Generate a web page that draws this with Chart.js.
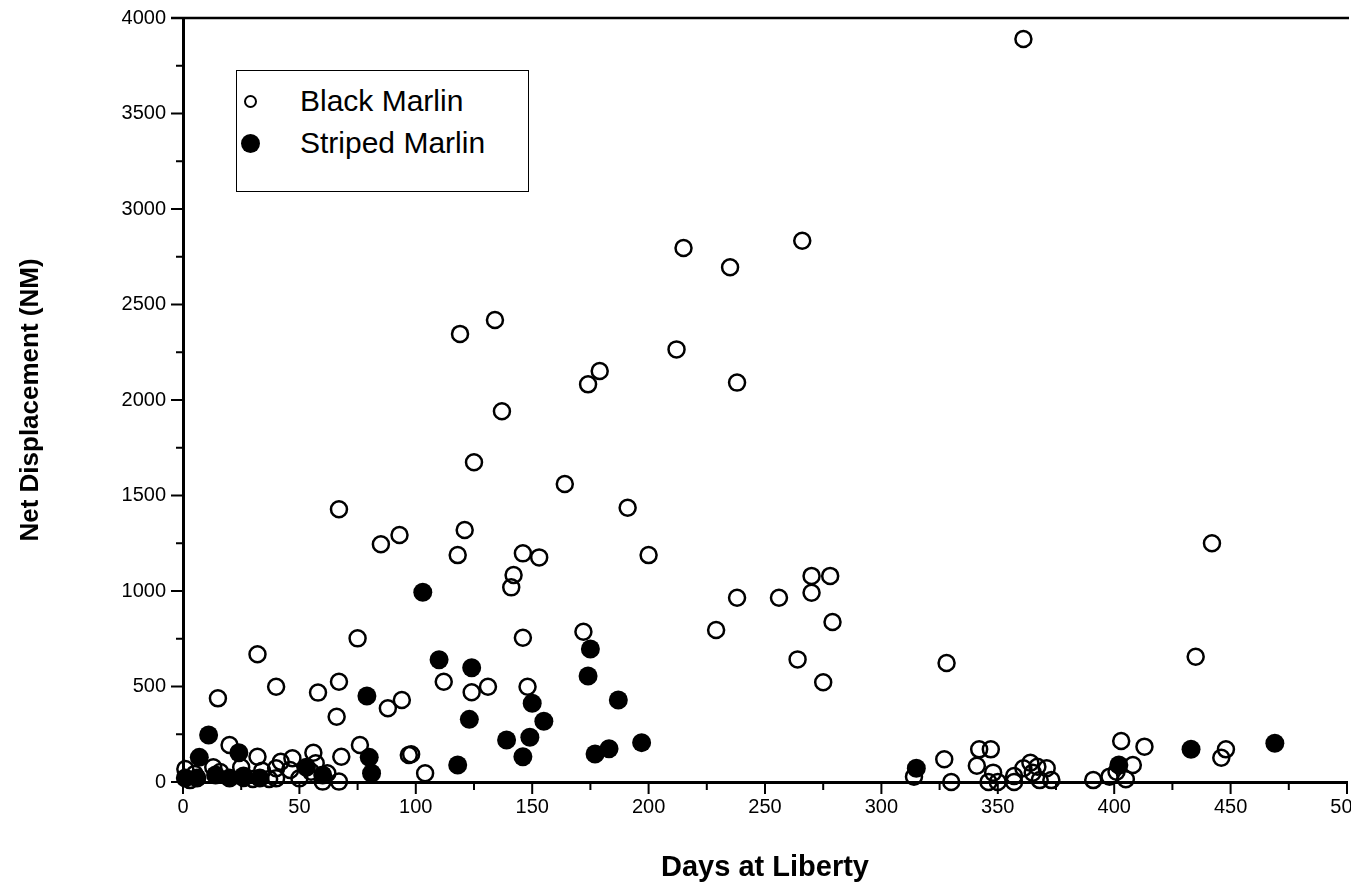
<!DOCTYPE html>
<html>
<head>
<meta charset="utf-8">
<title>Net Displacement vs Days at Liberty</title>
<script src="https://cdn.jsdelivr.net/npm/chart.js@4.4.1/dist/chart.umd.min.js"></script>
<style>
    html, body { margin: 0; padding: 0; background: #fff; }
    #wrap { position: relative; width: 1351px; height: 894px; overflow: hidden; }
    #wrap canvas { position: absolute; left: 0; top: 0; }
    .legend {
        position: absolute; left: 236px; top: 70px; width: 291px; height: 120px;
        border: 1.5px solid #000; background: #fff;
        font-family: "Liberation Sans", Arial, Helvetica, sans-serif; font-size: 30px; color: #000;
    }
    .legend .row { position: absolute; left: 0; height: 34px; line-height: 34px; }
    .legend .mark { position: absolute; box-sizing: border-box; border-radius: 50%; }
    .legend .open { left: 7px; top: 11px; width: 13px; height: 13px; border: 2px solid #000; }
    .legend .full { left: 4px; top: 8px; width: 19px; height: 19px; background: #000; }
    .legend .txt { position: absolute; left: 63px; top: 0; white-space: nowrap; }
</style>
</head>
<body>
<div id="wrap">
    <canvas id="chart" width="1368" height="894"></canvas>
    <div class="legend">
        <div class="row" style="top:13px"><span class="mark open"></span><span class="txt">Black Marlin</span></div>
        <div class="row" style="top:55px"><span class="mark full"></span><span class="txt">Striped Marlin</span></div>
    </div>
</div>
<script>
// tag returns: days at liberty vs net displacement (nautical miles)
const blackDays = [
    361, 215, 235, 266, 134, 119, 179, 174, 212, 238, 137, 125, 164, 191, 121, 93, 118, 146, 153, 200,
    142, 141, 146, 172, 112, 124, 131, 148, 94, 98, 104, 238, 256, 270, 278, 270, 279, 229, 264, 275,
    442, 435, 67, 85, 75, 32, 40, 58, 67, 15, 88, 66, 20, 32, 42, 47, 56, 68, 76, 97,
    13, 25, 34, 40, 40, 46, 50, 55, 57, 62, 67, 60, 314, 327, 330, 342, 347, 341, 348, 346,
    350, 357, 357, 361, 364, 367, 365, 371, 368, 373, 391, 398, 401, 405, 408, 403, 413, 448, 446, 328,
    1, 3, 5, 16, 26, 30, 37
];
const blackNM = [
    3890, 2796, 2695, 2834, 2419, 2346, 2152, 2082, 2265, 2091, 1941, 1674, 1560, 1436, 1319, 1293, 1188, 1197, 1176, 1188,
    1084, 1019, 755, 787, 525, 470, 499, 499, 429, 145, 46, 965, 965, 1079, 1079, 991, 838, 796, 642, 522,
    1250, 656, 1428, 1245, 752, 669, 499, 468, 525, 438, 386, 342, 194, 132, 106, 124, 153, 132, 194, 141,
    77, 77, 59, 19, 72, 63, 19, 54, 98, 46, 2, 2, 28, 119, 0, 171, 171, 85, 49, 0,
    0, 0, 31, 72, 101, 80, 49, 72, 10, 10, 10, 28, 54, 14, 89, 215, 185, 171, 127, 623,
    68, 10, 42, 52, 21, 16, 16
];
const stripedDays = [
    103, 110, 124, 123, 118, 139, 146, 149, 150, 155, 175, 174, 187, 177, 183, 197, 79, 11, 24, 7,
    80, 81, 53, 60, 315, 402, 433, 469, 6, 14, 20, 26, 1, 33
];
const stripedNM = [
    993, 640, 598, 328, 89, 220, 132, 234, 412, 318, 696, 555, 429, 147, 174, 206, 450, 246, 153, 129,
    129, 46, 77, 37, 72, 89, 171, 203, 21, 37, 21, 31, 21, 21
];

const xTickValues = [0, 50, 100, 150, 200, 250, 300, 350, 400, 450, 500];
const yTickValues = [0, 500, 1000, 1500, 2000, 2500, 3000, 3500, 4000];

const toPoints = (xs, ys) => xs.map((d, i) => ({ x: d, y: ys[i] }));

const FONT = '"Liberation Sans", Arial, Helvetica, sans-serif';

// top frame line plus major/minor tick marks on both axes
const frameTicks = {
    id: 'frameTicks',
    afterDraw(chart) {
        const { ctx, chartArea, scales: { x, y } } = chart;
        ctx.save();
        ctx.strokeStyle = '#000';
        ctx.lineCap = 'butt';

        ctx.lineWidth = 2.5;
        ctx.beginPath();
        ctx.moveTo(chartArea.left - 12, chartArea.top);
        ctx.lineTo(chartArea.right + 2, chartArea.top);
        ctx.stroke();

        ctx.lineWidth = 2;
        ctx.beginPath();
        const yStep = yTickValues[1] - yTickValues[0];
        for (let v = yTickValues[0]; v <= yTickValues[yTickValues.length - 1]; v += yStep / 2) {
            const py = y.getPixelForValue(v);
            const len = yTickValues.includes(v) ? 12 : 7;
            ctx.moveTo(chartArea.left - len, py);
            ctx.lineTo(chartArea.left, py);
        }
        const xStep = xTickValues[1] - xTickValues[0];
        for (let d = xTickValues[0]; d <= xTickValues[xTickValues.length - 1]; d += xStep / 2) {
            const px = x.getPixelForValue(d);
            const len = xTickValues.includes(d) ? 12 : 8;
            ctx.moveTo(px, chartArea.bottom);
            ctx.lineTo(px, chartArea.bottom + len);
        }
        ctx.stroke();
        ctx.restore();
    }
};

const chart = new Chart(document.getElementById('chart'), {
    type: 'scatter',
    data: {
        datasets: [
            {
                label: 'Black Marlin',
                data: toPoints(blackDays, blackNM),
                pointRadius: 8,
                pointBorderWidth: 2.5,
                borderColor: '#000',
                backgroundColor: 'rgba(0,0,0,0)',
                clip: false,
            },
            {
                label: 'Striped Marlin',
                data: toPoints(stripedDays, stripedNM),
                pointRadius: 9.5,
                pointBorderWidth: 0,
                borderColor: '#000',
                backgroundColor: '#000',
                clip: false,
            },
        ],
    },
    options: {
        responsive: false,
        devicePixelRatio: 1,
        animation: false,
        events: [],
        layout: { padding: { top: 18, right: 21, bottom: 0, left: 0 } },
        plugins: {
            legend: { display: false },
            tooltip: { enabled: false },
        },
        scales: {
            x: {
                type: 'linear',
                min: 0,
                max: 500,
                afterFit: (scale) => {
                    scale.height = 112;
                    scale.paddingLeft = 0;
                    scale.paddingRight = 0;
                },
                afterBuildTicks: (scale) => { scale.ticks = xTickValues.map(v => ({ value: v })); },
                ticks: {
                    color: '#000',
                    font: { family: FONT, size: 20 },
                    padding: 13,
                    maxRotation: 0,
                    autoSkip: false,
                    callback: (v) => String(v),
                },
                grid: { display: true, drawOnChartArea: false, drawTicks: false },
                border: { display: true, color: '#000', width: 3 },
                title: {
                    display: true,
                    text: 'Days at Liberty',
                    color: '#000',
                    font: { family: FONT, size: 29, weight: 'bold' },
                    padding: { top: 0, bottom: 9 },
                },
            },
            y: {
                type: 'linear',
                min: 0,
                max: 4000,
                afterFit: (scale) => {
                    scale.width = 183;
                    scale.paddingTop = 0;
                    scale.paddingBottom = 0;
                },
                afterBuildTicks: (scale) => { scale.ticks = yTickValues.map(v => ({ value: v })); },
                ticks: {
                    color: '#000',
                    font: { family: FONT, size: 20 },
                    padding: 17,
                    callback: (v) => String(v),
                },
                grid: { display: true, drawOnChartArea: false, drawTicks: false },
                border: { display: true, color: '#000', width: 3 },
                title: {
                    display: true,
                    text: 'Net Displacement (NM)',
                    color: '#000',
                    font: { family: FONT, size: 26, weight: 'bold' },
                    padding: { top: 15, bottom: 0 },
                },
            },
        },
    },
    plugins: [frameTicks],
});
</script>
</body>
</html>
